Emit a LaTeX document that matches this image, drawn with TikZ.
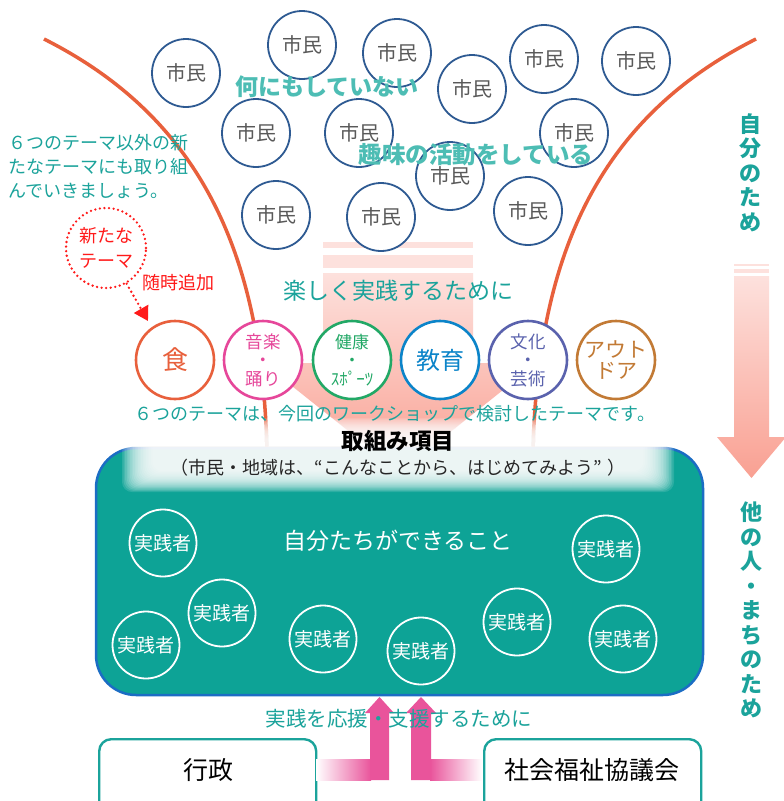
\documentclass[tikz,border=0pt]{standalone}
\usepackage{fontspec}
\setmainfont{Noto Sans CJK JP}
\usetikzlibrary{arrows.meta}
\definecolor{curveor}{HTML}{E8603C}
\definecolor{citb}{HTML}{2E5A92}
\definecolor{citt}{HTML}{595959}
\definecolor{lteal}{HTML}{4DBDB4}
\definecolor{teal1}{HTML}{1BA39B}
\definecolor{boxteal}{HTML}{0DA396}
\definecolor{boxblue}{HTML}{1B6DC4}
\definecolor{pinkA}{HTML}{E9549B}
\definecolor{salmonT}{HTML}{FDE1DD}
\definecolor{salmonB}{HTML}{F9A092}
\definecolor{cShoku}{HTML}{E8603C}
\definecolor{cOngaku}{HTML}{E6479A}
\definecolor{cKenko}{HTML}{22A866}
\definecolor{cKyoiku}{HTML}{0B84C9}
\definecolor{cBunka}{HTML}{5A62AD}
\definecolor{cOut}{HTML}{C27A35}
\definecolor{redD}{HTML}{FF1A1A}
\begin{document}
\begin{tikzpicture}[x=1pt,y=-1pt,
  fs/.style 2 args={font=\fontsize{#1}{#2}\selectfont},
  citizen/.style={circle, draw=citb, line width=1.8pt, fill=white, minimum size=68pt, inner sep=0pt, text=citt, fs={20}{24}},
  theme/.style={circle, line width=2.6pt, fill=white, minimum size=78pt, inner sep=0pt, align=center},
  prac/.style={circle, draw=white, line width=1.8pt, minimum size=67pt, inner sep=0pt, text=white, fs={19}{23}},
  orgbox/.style={draw=teal1, line width=2.4pt, rounded corners=12pt, fill=white, inner sep=0pt},
  dotline/.style={redD, line width=2.6pt, dash pattern=on 0pt off 4.6pt, line cap=round}]
\useasboundingbox (0,0) rectangle (784,801);
\clip (0,0) rectangle (784,801);
\fill[white] (0,0) rectangle (784,801);

% central funnel arrow
\fill[salmonT] (323,242) rectangle (473,248);
\fill[salmonT] (323,255) rectangle (473,268);
\shade[top color=salmonT, bottom color=salmonB] (323,273) -- (473,273) -- (473,363) -- (537,363) -- (400,472) -- (263,363) -- (323,363) -- cycle;

% right arrow
\fill[salmonT] (734,264) rectangle (769,266);
\fill[salmonT] (734,269) rectangle (769,273);
\shade[top color=salmonT, bottom color=salmonB] (734,276) -- (769,276) -- (769,437) -- (786,437) -- (751.5,478) -- (717,437) -- (734,437) -- cycle;

% orange curves
\draw[curveor, line width=3.5pt] (44,39) .. controls (205,120) and (262,260) .. (267,450);
\draw[curveor, line width=3.5pt] (756,39) .. controls (595,120) and (538,260) .. (533,450);

% citizens
\node[citizen] (c1) at (186,73) {市民};
\node[citizen] (c2) at (302,45) {市民};
\node[citizen] (c3) at (397,53) {市民};
\node[citizen] (c4) at (472,89) {市民};
\node[citizen] (c5) at (544,59) {市民};
\node[citizen] (c6) at (636,61) {市民};
\node[citizen] (c7) at (256,133) {市民};
\node[citizen] (c8) at (359,133) {市民};
\node[citizen] (c9) at (574,133) {市民};
\node[citizen] (c10) at (450,176) {市民};
\node[citizen] (c11) at (276,215) {市民};
\node[citizen] (c12) at (381,217) {市民};
\node[citizen] (c13) at (528,211) {市民};

\node[text=lteal, font=\bfseries\fontsize{23}{26}\selectfont, inner sep=0] (nani) at (327,87) {何にもしていない};
\node[text=lteal, font=\bfseries\fontsize{23.5}{26}\selectfont, inner sep=0] (shumi) at (476,155) {趣味の活動をしている};

% themes
\node[theme, draw=cShoku, text=cShoku, fs={26}{30}] (t1) at (175,360) {食};
\node[theme, draw=cOngaku, text=cOngaku, fs={17.5}{18.5}] (t2) at (263,360) {音楽\\・\\踊り};
\node[theme, draw=cKenko, text=cKenko, fs={17}{18.5}] (t3) at (352,360) {健康\\・\\ｽﾎﾟｰﾂ};
\node[theme, draw=cKyoiku, text=cKyoiku, fs={24}{28}] (t4) at (440,360) {教育};
\node[theme, draw=cBunka, text=cBunka, fs={17.5}{18.5}] (t5) at (528,360) {文化\\・\\芸術};
\node[theme, draw=cOut, text=cOut, fs={21}{21.5}] (t6) at (616,360) {アウト\\ドア};

% new theme
\node[circle, dotline, draw=redD, minimum size=80pt, inner sep=0pt, text=redD, align=center, fs={18}{25}] (newt) at (106,248) {新たな\\テーマ};
\coordinate (tip) at (148,321);
\draw[dotline, -{Triangle[length=14pt,width=16pt]}] (newt.-60) -- (tip);
\node[text=redD, fs={18}{22}, inner sep=0] (zuiji) at (178,283) {随時追加};

\node[text=teal1, fs={18}{24}, align=left, anchor=west, inner sep=0] (other) at (8,167) {６つのテーマ以外の新\\たなテーマにも取り組\\んでいきましょう。};

% main box
\node[draw=boxblue, line width=2.5pt, fill=boxteal, rounded corners=40pt, minimum width=607pt, minimum height=247pt, inner sep=0] (box) at (399.5,571.5) {};
\foreach \k in {0,...,19}
  \fill[white, opacity=0.13, rounded corners=10pt] ({122+1.6*\k},{418+1.1*\k}) rectangle ({674-1.6*\k},{492-1.1*\k});

\node[text=teal1, fs={23}{26}, inner sep=0] (tanoshiku) at (398,291) {楽しく実践するために};
\node[text=teal1, fs={18}{22}, inner sep=0] (note) at (395,414) {６つのテーマは、今回のワークショップで検討したテーマです。};
\node[font=\bfseries\fontsize{22.5}{26}\selectfont, inner sep=0] (title) at (398,441) {取組み項目};
\node[fs={18}{20}, text=black!85, inner sep=0] (sub) at (398,468) {（市民・地域は、“こんなことから、はじめてみよう”\hspace{0.3em}）};
\node[text=white, fs={23}{26}, inner sep=0] (dekiru) at (398,541) {自分たちができること};

% practitioners
\node[prac] (p1) at (163,543) {実践者};
\node[prac] (p2) at (222,613) {実践者};
\node[prac] (p3) at (146,645) {実践者};
\node[prac] (p4) at (323,639) {実践者};
\node[prac] (p5) at (421,651) {実践者};
\node[prac] (p6) at (606,549) {実践者};
\node[prac] (p7) at (517,622) {実践者};
\node[prac] (p8) at (623,639) {実践者};

% vertical texts
\node[text=teal1, font=\bfseries\fontsize{22}{24.5}\selectfont, align=center, inner sep=0] (jibun) at (750,172.5) {自\\分\\の\\た\\め};
\node[text=teal1, font=\bfseries\fontsize{22}{24.5}\selectfont, align=center, inner sep=0] (tanin) at (751,610) {他\\の\\人\\・\\ま\\ち\\の\\た\\め};

% bottom organisations
\node[orgbox, minimum width=217pt, minimum height=80pt, anchor=north west] (gyosei) at (98,738) {};
\node[fs={25}{28}, inner sep=0] (gyoseiT) at (208,770) {行政};
\node[orgbox, minimum width=217pt, minimum height=80pt, anchor=north west] (shakyo) at (483,738) {};
\node[fs={25}{28}, inner sep=0] (shakyoT) at (591.5,770) {社会福祉協議会};

% pink support arrows
\shade[left color=white, right color=pinkA] (316,759) rectangle (371,780);
\fill[pinkA] (370,780) -- (370,713) -- (365,713) -- (379.5,697) -- (394,713) -- (389,713) -- (389,780) -- cycle;
\shade[left color=pinkA, right color=white] (430,759) rectangle (482,780);
\fill[pinkA] (411,780) -- (411,713) -- (406,713) -- (421,697) -- (436,713) -- (431,713) -- (431,780) -- cycle;
\node[text=teal1, fs={20.5}{24}, inner sep=0] (ouen) at (399,719) {実践を応援・支援するために};
\end{tikzpicture}
\end{document}
